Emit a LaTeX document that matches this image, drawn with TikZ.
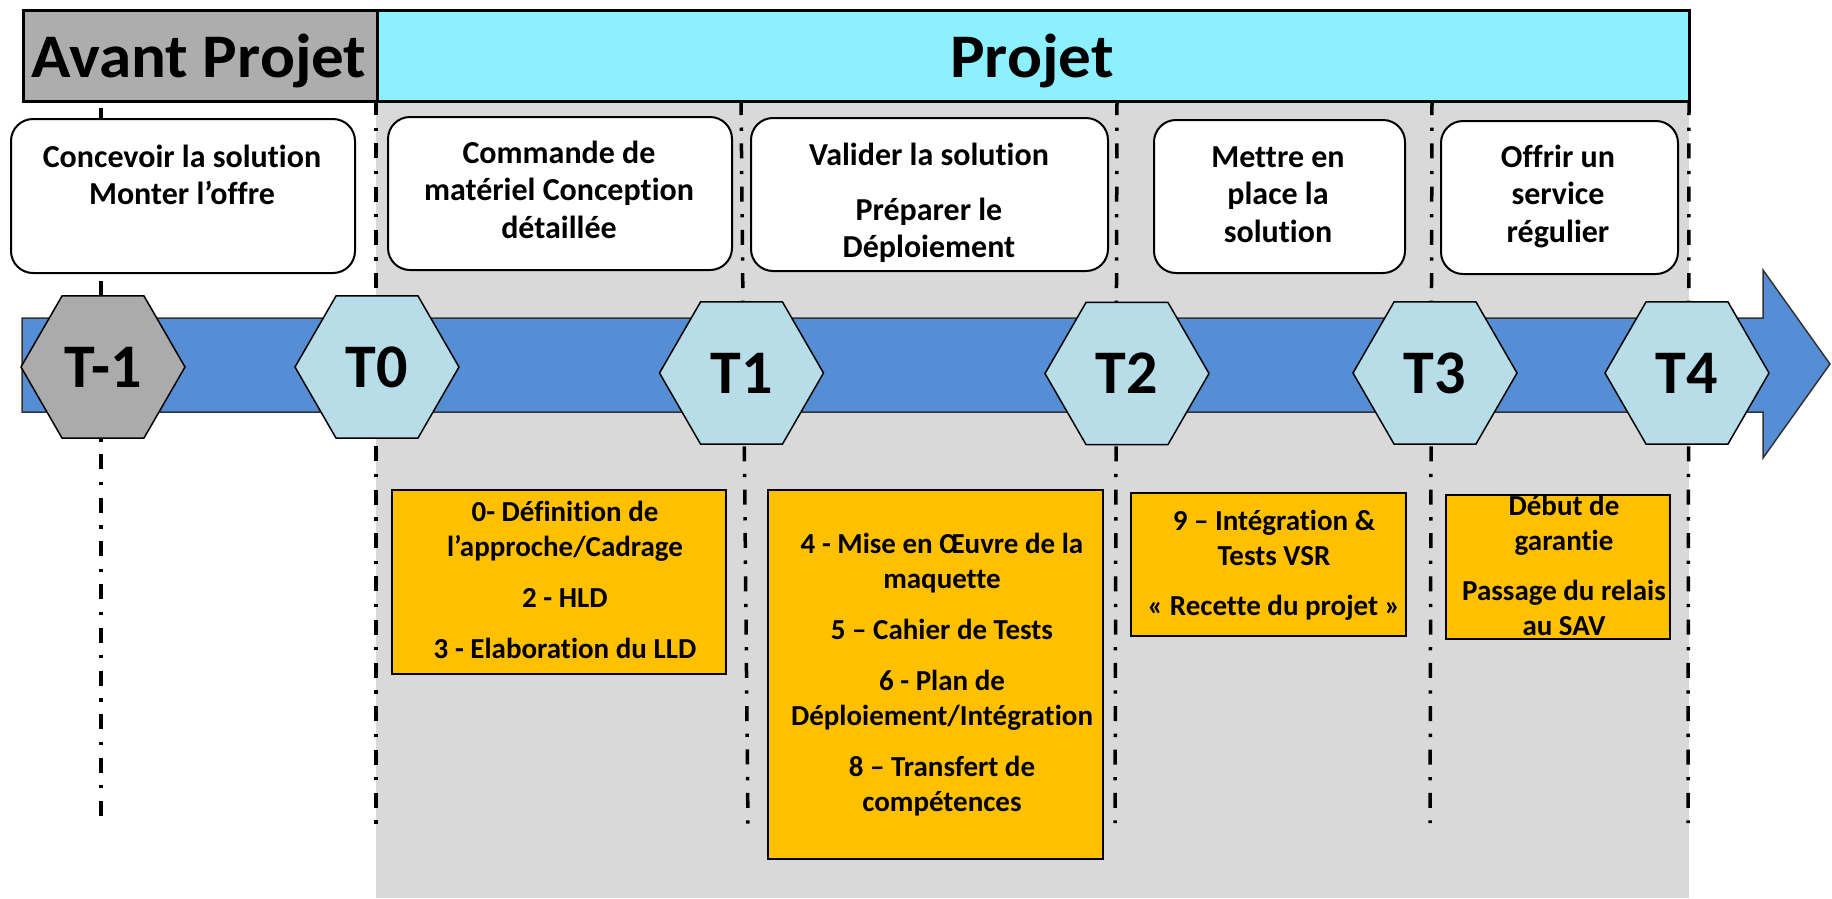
\documentclass[tikz,border=0pt]{standalone}
\usepackage{fontspec}
\setmainfont{Carlito}[Ligatures={TeX,NoCommon}]
\newfontfamily\headfont{Carlito}[Ligatures={TeX,NoCommon},FakeStretch=1.05]
\usetikzlibrary{shapes.geometric}
\definecolor{avantgray}{HTML}{ADADAD}
\definecolor{projcyan}{HTML}{8CF0FE}
\definecolor{bggray}{HTML}{D9D9D9}
\definecolor{bandblue}{HTML}{558ED5}
\definecolor{hexblue}{HTML}{B7DEE8}
\definecolor{hexgray}{HTML}{ABABAB}
\definecolor{myorange}{HTML}{FFC000}
\begin{document}
\begin{tikzpicture}[x=1pt,y=-1pt,
  header/.style={draw=black, line width=2.5pt, anchor=north west, minimum height=91pt, inner sep=0pt},
  headtext/.style={font=\headfont\fontsize{62}{70}\selectfont\bfseries, anchor=base, inner sep=0pt},
  phasebox/.style={draw=black, line width=2pt, fill=white, rounded corners=22pt, anchor=north west, minimum height=153pt, inner sep=0pt},
  phasetext/.style={font=\fontsize{32}{37.5}\selectfont\bfseries, align=center, inner sep=0pt, anchor=north},
  taskbox/.style={draw=black, line width=2.2pt, fill=myorange, anchor=north west, inner sep=0pt},
  tasktext/.style={font=\fontsize{29}{35}\selectfont\bfseries, align=center, inner sep=0pt, anchor=north},
  milestone/.style={regular polygon, regular polygon sides=6, draw=black, line width=1.5pt, fill=hexblue, minimum size=164pt, inner sep=0pt, font=\fontsize{62}{70}\selectfont\bfseries},
  tline/.style={line width=3.5pt, dash pattern=on 15pt off 12.5pt on 3.3pt off 12.5pt},
]
\useasboundingbox (0,0) rectangle (1832,898);
% background of the project zone
\fill[bggray] (376,100) rectangle (1689,898);
% time markers
\coordinate (m0t) at (101,108); \coordinate (m0b) at (101,828);
\coordinate (m1t) at (376,100); \coordinate (m1b) at (376,828);
\coordinate (m2t) at (741,100); \coordinate (m2b) at (748,828);
\coordinate (m3t) at (1117,100); \coordinate (m3b) at (1115,823);
\coordinate (m4t) at (1432,100); \coordinate (m4b) at (1430,823);
\coordinate (m5t) at (1689,100); \coordinate (m5b) at (1688,823);
\foreach \i in {0,...,5} \draw[tline] (m\i t) -- (m\i b);
% phase boxes
\node[phasebox, minimum width=344pt, minimum height=154pt] (p0) at (10,118) {};
\node[phasebox, minimum width=344pt] (p1) at (387,116) {};
\node[phasebox, minimum width=357pt] (p2) at (750,117) {};
\node[phasebox, minimum width=251pt] (p3) at (1153,119) {};
\node[phasebox, minimum width=237pt] (p4) at (1440,120) {};
\node[phasetext] (p0t) at (182,140.75) {\strut Concevoir la solution\\Monter l’offre};
\node[phasetext] (p1t) at (559,136.75) {\strut Commande de\\matériel Conception\\détaillée};
\node[phasetext] (p2t) at (929,138.75) {\strut Valider la solution\\[17.5pt]Préparer le\\Déploiement};
\node[phasetext] (p3t) at (1278,140.75) {\strut Mettre en\\place la\\solution};
\node[phasetext] (p4t) at (1558,140.75) {\strut Offrir un\\service\\régulier};
% time arrow
\draw[fill=bandblue, draw=black!80, line width=1.5pt] (22,318) -- (1763,318) -- (1763,270) -- (1830,364) -- (1763,458) -- (1763,412) -- (22,412) -- cycle;
% milestones
\node[milestone, fill=hexgray] (tm1) at (103,367) {T-1};
\node[milestone] (t0) at (377,367) {T0};
\node[milestone] (t1) at (741.5,373) {T1};
\node[milestone] (t2) at (1127,373.5) {T2};
\node[milestone] (t3) at (1435,373) {T3};
\node[milestone] (t4) at (1687,373) {T4};
% task boxes
\node[taskbox, minimum width=334pt, minimum height=184pt] (k0) at (391,489) {};
\node[taskbox, minimum width=335pt, minimum height=369pt] (k1) at (767,489) {};
\node[taskbox, minimum width=275pt, minimum height=143pt] (k2) at (1130,492) {};
\node[taskbox, minimum width=224pt, minimum height=144pt] (k3) at (1445,494) {};
\node[tasktext] (k0t) at (565,496.5) {\strut 0- Définition de\\l’approche/Cadrage\\[16pt]2 - HLD\\[16pt]3 - Elaboration du LLD};
\node[tasktext] (k1t) at (942,528.5) {\strut 4 - Mise en Œuvre de la\\maquette\\[16pt]5 – Cahier de Tests\\[16pt]6 - Plan de\\Déploiement/Intégration\\[16pt]8 – Transfert de\\compétences};
\node[tasktext] (k2t) at (1274,505.5) {\strut 9 – Intégration \&\\Tests VSR\\[15pt]« Recette du projet »};
\node[tasktext] (k3t) at (1564,490.5) {\strut Début de\\garantie\\[15pt]Passage du relais\\au SAV};
% headers
\node[header, fill=avantgray, minimum width=354pt] (avant) at (22,9) {};
\node[header, fill=projcyan, minimum width=1312pt] (projet) at (376,9) {};
\node[headtext] (avantt) at (199,77) {Avant Projet};
\node[headtext] (projett) at (1032,77) {Projet};
\end{tikzpicture}
\end{document}
